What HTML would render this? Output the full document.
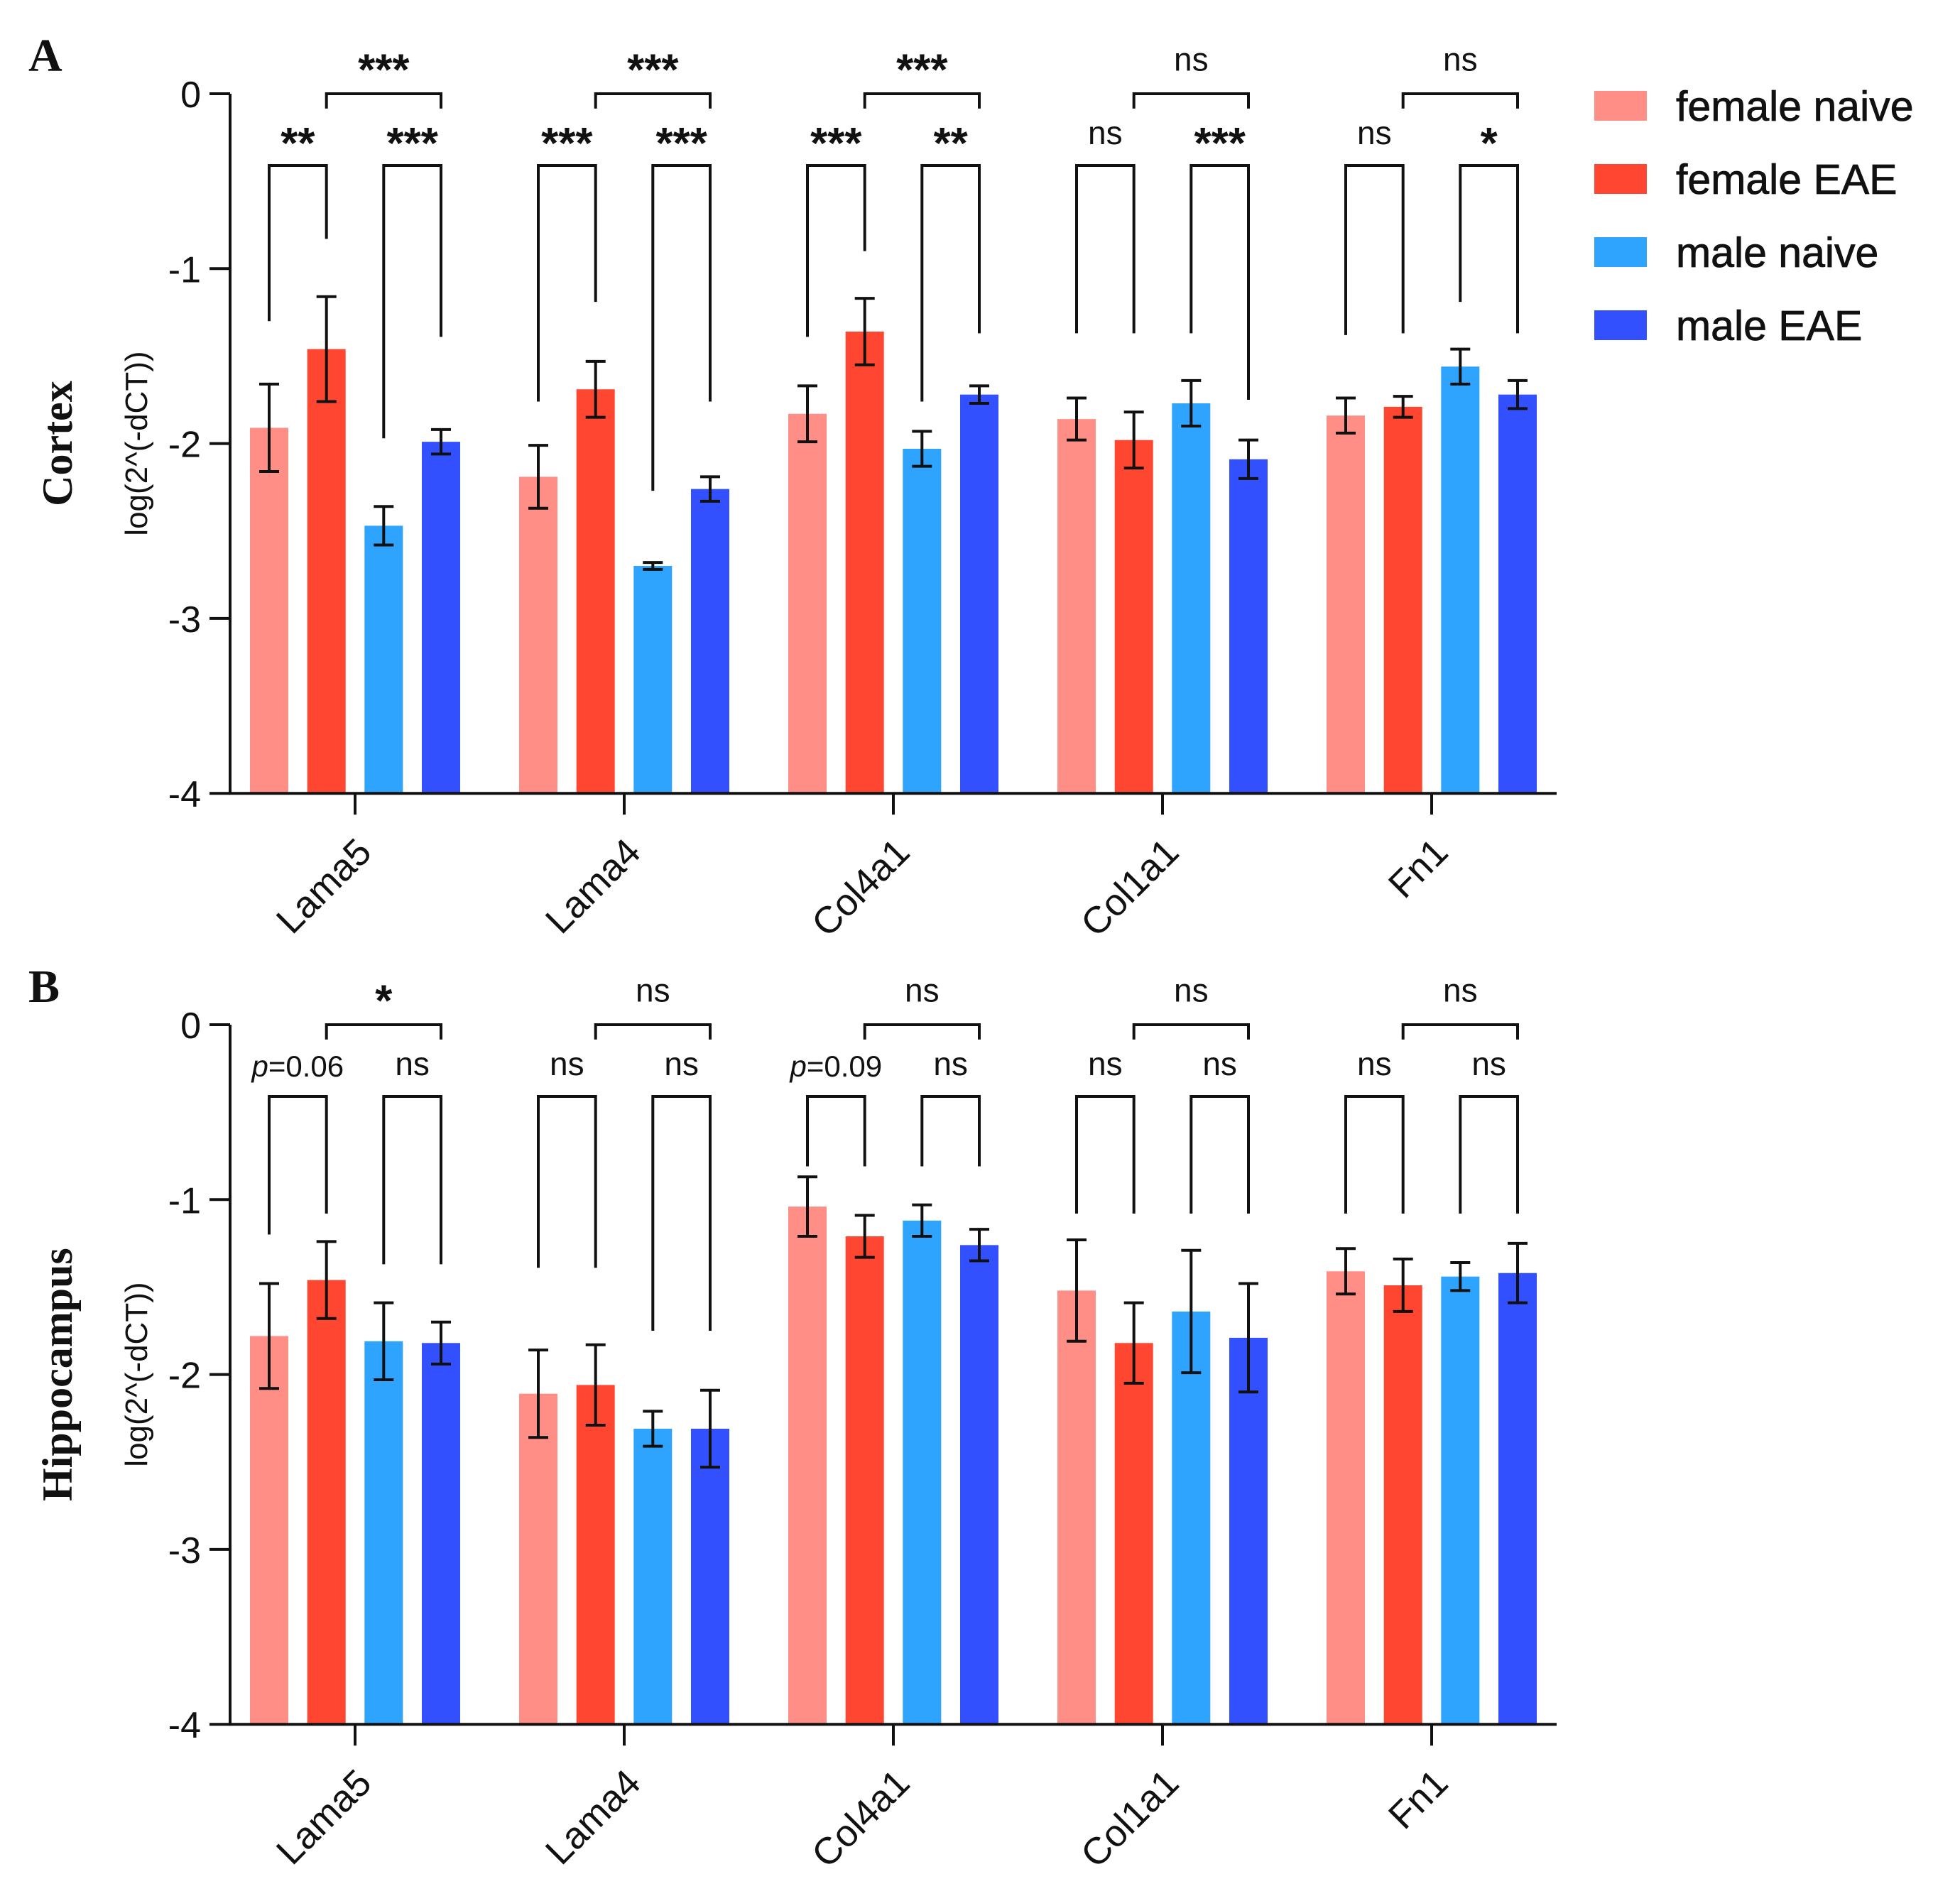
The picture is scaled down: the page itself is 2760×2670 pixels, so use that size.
<!DOCTYPE html>
<html><head><meta charset="utf-8">
<style>html,body{margin:0;padding:0;background:#fff}svg{display:block}</style>
</head><body>
<svg id="fig" width="2760" height="2670" viewBox="0 0 2760 2670" xmlns="http://www.w3.org/2000/svg" font-family="Liberation Sans, sans-serif"></svg>
<script>
const categories = ["Lama5","Lama4","Col4a1","Col1a1","Fn1"];
const seriesNames = ["female naive","female EAE","male naive","male EAE"];
const seriesColors = ["#FF8E87","#FF4630","#2FA4FF","#3350FF"];
const yTicks = [0,-1,-2,-3,-4];
const yTickLabels = ["0","-1","-2","-3","-4"];

// Panel A (Cortex)
const cortexFemaleNaive = [-1.91,-2.19,-1.83,-1.86,-1.84];
const cortexFemaleEAE   = [-1.46,-1.69,-1.36,-1.98,-1.79];
const cortexMaleNaive   = [-2.47,-2.70,-2.03,-1.77,-1.56];
const cortexMaleEAE     = [-1.99,-2.26,-1.72,-2.09,-1.72];
const cortexErrFN = [0.25,0.18,0.16,0.12,0.10];
const cortexErrFE = [0.30,0.16,0.19,0.16,0.06];
const cortexErrMN = [0.11,0.02,0.10,0.13,0.10];
const cortexErrME = [0.07,0.07,0.05,0.11,0.08];
const cortexLegEnds = [[-1.30,-0.83,-1.97,-1.39],[-1.76,-1.19,-2.27,-1.76],[-1.39,-0.90,-1.76,-1.37],[-1.37,-1.37,-1.37,-1.75],[-1.38,-1.37,-1.19,-1.37]];
const cortexSigLeft  = ["**","***","***","ns","ns"];
const cortexSigRight = ["***","***","**","***","*"];
const cortexSigTop   = ["***","***","***","ns","ns"];

// Panel B (Hippocampus)
const hippoFemaleNaive = [-1.78,-2.11,-1.04,-1.52,-1.41];
const hippoFemaleEAE   = [-1.46,-2.06,-1.21,-1.82,-1.49];
const hippoMaleNaive   = [-1.81,-2.31,-1.12,-1.64,-1.44];
const hippoMaleEAE     = [-1.82,-2.31,-1.26,-1.79,-1.42];
const hippoErrFN = [0.30,0.25,0.17,0.29,0.13];
const hippoErrFE = [0.22,0.23,0.12,0.23,0.15];
const hippoErrMN = [0.22,0.10,0.09,0.35,0.08];
const hippoErrME = [0.12,0.22,0.09,0.31,0.17];
const hippoLegEnds = [[-1.20,-1.08,-1.37,-1.37],[-1.39,-1.39,-1.75,-1.75],[-0.81,-0.81,-0.81,-0.81],[-1.08,-1.08,-1.08,-1.08],[-1.08,-1.08,-1.08,-1.08]];
const hippoSigLeft  = ["p=0.06","ns","p=0.09","ns","ns"];
const hippoSigRight = ["ns","ns","ns","ns","ns"];
const hippoSigTop   = ["*","ns","ns","ns","ns"];

const NS = "http://www.w3.org/2000/svg";
const svg = document.getElementById("fig");
function mk(tag, attrs, parent){ const e=document.createElementNS(NS,tag); for(const k in attrs) e.setAttribute(k,attrs[k]); (parent||svg).appendChild(e); return e; }

const X0 = 324, X1 = 2192, CAT0 = 500, CATSTEP = 379, BAROFF = [-121,-40.3,40.3,121], BW = 54, UNIT = 246.3;

function drawPanel(top, series, errs, legEnds, sigL, sigR, sigT, letter, title, key){
  const g = mk("g",{});
  
  
  const y = v => top + (0 - v) * UNIT;
  const xc = i => CAT0 + i * CATSTEP;
  series.forEach((vals, s) => {
    vals.forEach((v, i) => {
      const cx = xc(i) + BAROFF[s];
      const r = mk("rect",{x:cx-BW/2, y:y(v), width:BW, height:y(-4)-y(v), fill:seriesColors[s]}, g);
      
      
      const e = errs[s][i];
      const eb = mk("path",{d:`M${cx} ${y(v+e)}V${y(v-e)}M${cx-14} ${y(v+e)}H${cx+14}M${cx-14} ${y(v-e)}H${cx+14}`, stroke:"#111", "stroke-width":4, fill:"none"}, g);
      
      
    });
  });
  const ax = mk("path",{d:`M${X0} ${y(0)}V${y(-4)}H${X1}`, stroke:"#111","stroke-width":4, fill:"none"}, g);
  
  
  yTicks.forEach((t, k) => {
    mk("line",{x1:295,x2:X0,y1:y(t),y2:y(t),stroke:"#111","stroke-width":4}, g);
    const tl = mk("text",{x:283,y:y(t)+19,"text-anchor":"end","font-size":52,fill:"#111"}, g);
    tl.textContent = yTickLabels[k];
    
    
  });
  categories.forEach((c, i) => {
    mk("line",{x1:xc(i),x2:xc(i),y1:y(-4),y2:y(-4)+30,stroke:"#111","stroke-width":4}, g);
    const tx = xc(i)+26, ty = y(-4)+86;
    const cl = mk("text",{x:tx,y:ty,"text-anchor":"end","font-size":53,fill:"#111",transform:`rotate(-45 ${tx} ${ty})`}, g);
    cl.textContent = c;
    
    
  });
  const BY = y(-0.41);
  categories.forEach((c, i) => {
    const xs = BAROFF.map(o => xc(i)+o);
    const le = legEnds[i];
    const p = `M${xs[0]} ${y(le[0])}V${BY}H${xs[1]}V${y(le[1])}M${xs[2]} ${y(le[2])}V${BY}H${xs[3]}V${y(le[3])}M${xs[1]} ${y(-0.085)}V${y(0)}H${xs[3]}V${y(-0.085)}`;
    const br = mk("path",{d:p, stroke:"#111","stroke-width":4, fill:"none"}, g);
    
    
    const lab = (txt, x, yy) => {
      const t = mk("text",{x:x, "text-anchor":"middle", fill:"#111"}, g);
      if (txt === "ns") { t.setAttribute("y", yy+12); t.setAttribute("font-size", 46); t.textContent = "ns"; }
      else if (txt.startsWith("p=")) {
        t.setAttribute("y", yy+14); t.setAttribute("font-size", 42);
        const ts = mk("tspan",{"font-style":"italic"}, t); ts.textContent = "p";
        const ts2 = mk("tspan",{}, t); ts2.textContent = txt.slice(1);
      } else { t.setAttribute("y", yy+32); t.setAttribute("font-size", 62); t.setAttribute("font-weight","bold"); t.textContent = txt; }
      
      
    };
    lab(sigL[i], (xs[0]+xs[1])/2, y(-0.24));
    lab(sigR[i], (xs[2]+xs[3])/2, y(-0.24));
    lab(sigT[i], (xs[1]+xs[3])/2, y(0.18));
  });
  const yc = y(-2);
  const yt = mk("text",{x:0,y:0,"text-anchor":"middle","font-size":44,fill:"#111",transform:`translate(207 ${yc}) rotate(-90)`}, g);
  yt.textContent = "log(2^(-dCT))";
  
  
  const pt = mk("text",{x:0,y:0,"text-anchor":"middle","font-size":60,"font-weight":"bold","font-family":"Liberation Serif, serif",fill:"#111",transform:`translate(101 ${yc}) rotate(-90)`}, g);
  pt.textContent = title;
  
  
  const pl = mk("text",{x:40,y:top-32,"font-size":66,"font-weight":"bold","font-family":"Liberation Serif, serif",fill:"#111"}, g);
  pl.textContent = letter;
  
  
}

drawPanel(132, [cortexFemaleNaive,cortexFemaleEAE,cortexMaleNaive,cortexMaleEAE],
  [cortexErrFN,cortexErrFE,cortexErrMN,cortexErrME], cortexLegEnds,
  cortexSigLeft, cortexSigRight, cortexSigTop, "A", "Cortex", "cortex");
drawPanel(1443, [hippoFemaleNaive,hippoFemaleEAE,hippoMaleNaive,hippoMaleEAE],
  [hippoErrFN,hippoErrFE,hippoErrMN,hippoErrME], hippoLegEnds,
  hippoSigLeft, hippoSigRight, hippoSigTop, "B", "Hippocampus", "hippocampus");

const lg = mk("g",{});


seriesNames.forEach((n, s) => {
  const cy = 149 + s * 103;
  const sw = mk("rect",{x:2245,y:cy-21,width:74,height:42,fill:seriesColors[s]}, lg);
  
  
  const t = mk("text",{x:2360,y:cy+21,"font-size":59,fill:"#111",stroke:"#111","stroke-width":0.8}, lg);
  t.textContent = n;
  
  
});
</script>
</body></html>
